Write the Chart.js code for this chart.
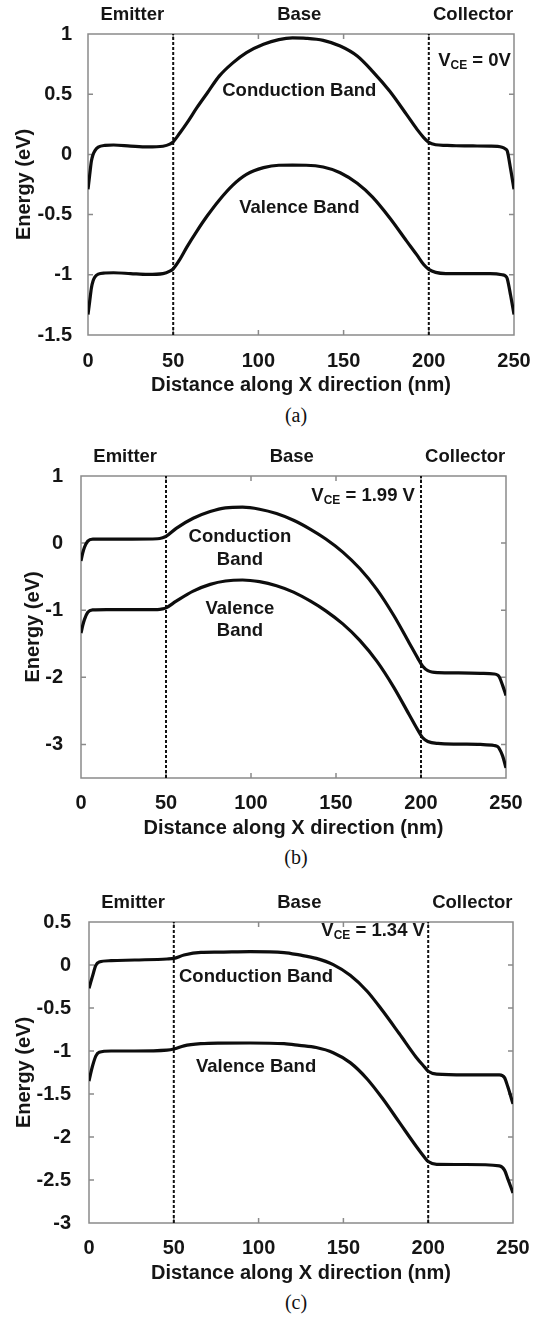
<!DOCTYPE html>
<html>
<head>
<meta charset="utf-8">
<script src="https://cdn.jsdelivr.net/npm/chart.js@4/dist/chart.umd.min.js"></script>
<style>
  body { margin: 0; background: #fff; }
  #wrap { position: relative; width: 541px; height: 1322px; overflow: hidden; }
  canvas { position: absolute; left: 0; }
  .cap { position: absolute; width: 200px; text-align: center; font: 20px "Liberation Serif", "DejaVu Serif", serif; color: #111; line-height: 24px; }
</style>
</head>
<body>
<div id="wrap">
  <canvas id="chartA" width="541" height="397" style="top:0px"></canvas>
  <canvas id="chartB" width="541" height="400" style="top:440px"></canvas>
  <canvas id="chartC" width="541" height="405" style="top:880px"></canvas>
  <div class="cap" style="left:196px;top:403px">(a)</div>
  <div class="cap" style="left:196px;top:845px">(b)</div>
  <div class="cap" style="left:196px;top:1290px">(c)</div>
</div>
<script>
// shared
const xTicks = [0, 50, 100, 150, 200, 250];
const regions = ['Emitter', 'Base', 'Collector'];
const regionCentres = [26, 124, 226];
const boundaries = [50, 200];

// (a) V_CE = 0 V
const distA = [0, 1, 2, 3, 4, 6, 10, 15, 25, 35, 44, 48, 50, 54, 58, 64, 70, 77, 85, 93, 103, 112, 120, 128, 138, 148, 158, 167, 177, 187, 193, 197, 200, 204, 210, 216, 226, 236, 243, 245, 246, 248, 250];
const conductionA = [-0.29, -0.17, -0.055, 0.0, 0.03, 0.06, 0.075, 0.078, 0.069, 0.062, 0.068, 0.085, 0.105, 0.18, 0.26, 0.39, 0.51, 0.65, 0.76, 0.845, 0.914, 0.953, 0.967, 0.964, 0.947, 0.9, 0.817, 0.69, 0.526, 0.33, 0.21, 0.14, 0.1, 0.08, 0.075, 0.072, 0.07, 0.069, 0.06, 0.045, 0.03, -0.12, -0.29];
const valenceA = [-1.33, -1.22, -1.11, -1.05, -1.02, -0.995, -0.985, -0.983, -0.99, -0.997, -0.99, -0.97, -0.95, -0.87, -0.77, -0.635, -0.51, -0.38, -0.255, -0.166, -0.11, -0.09, -0.089, -0.09, -0.105, -0.152, -0.24, -0.355, -0.526, -0.72, -0.835, -0.915, -0.955, -0.98, -0.99, -0.99, -0.99, -0.99, -1.0, -1.01, -1.03, -1.17, -1.33];
const yTicksA = [-1.5, -1, -0.5, 0, 0.5, 1];

// (b) V_CE = 1.99 V
const distB = [0, 1, 2, 4, 7, 15, 30, 45, 48, 50, 56, 66, 76, 85, 95, 105, 115, 125, 135, 144, 154, 164, 174, 184, 193, 198, 201, 204, 210, 222, 235, 243, 245, 246, 248, 250];
const conductionB = [-0.265, -0.15, -0.065, 0.03, 0.06, 0.06, 0.06, 0.065, 0.08, 0.1, 0.22, 0.37, 0.47, 0.525, 0.535, 0.505, 0.44, 0.34, 0.205, 0.061, -0.134, -0.379, -0.689, -1.079, -1.484, -1.71, -1.835, -1.9, -1.93, -1.935, -1.94, -1.95, -1.965, -1.99, -2.12, -2.27];
const valenceB = [-1.34, -1.23, -1.14, -1.03, -0.995, -0.99, -0.99, -0.99, -0.98, -0.965, -0.865, -0.715, -0.615, -0.565, -0.55, -0.575, -0.635, -0.73, -0.865, -1.009, -1.204, -1.449, -1.759, -2.149, -2.554, -2.78, -2.9, -2.955, -2.985, -2.995, -3.0, -3.015, -3.03, -3.06, -3.17, -3.35];
const yTicksB = [-3, -2, -1, 0, 1];

// (c) V_CE = 1.34 V
const distC = [0, 1, 2, 4, 6, 13, 27, 46, 50, 56, 66, 76, 95, 115, 124, 134, 144, 154, 164, 173, 183, 193, 198, 200, 205, 222, 242, 245, 247, 250];
const conductionC = [-0.27, -0.2, -0.135, -0.005, 0.035, 0.05, 0.058, 0.07, 0.077, 0.116, 0.147, 0.15, 0.155, 0.145, 0.117, 0.077, 0.004, -0.12, -0.305, -0.53, -0.8, -1.075, -1.19, -1.235, -1.268, -1.277, -1.277, -1.31, -1.42, -1.615];
const valenceC = [-1.35, -1.26, -1.18, -1.06, -1.015, -1.0, -1.0, -0.99, -0.977, -0.94, -0.915, -0.908, -0.907, -0.915, -0.935, -0.96, -1.02, -1.135, -1.325, -1.55, -1.83, -2.11, -2.24, -2.285, -2.318, -2.32, -2.335, -2.385, -2.49, -2.65];
const yTicksC = [-3, -2.5, -2, -1.5, -1, -0.5, 0, 0.5];

const FONT = '"Liberation Sans", Arial, sans-serif';
const INK = '#151515';

function points(xs, ys) {
	return xs.map(function(x, i) { return {x: x, y: ys[i]}; });
}

// box with inward tick marks on all four sides
const framePlugin = {
	id: 'frame',
	beforeDatasetsDraw(chart) {
		const ctx = chart.ctx, a = chart.chartArea, sx = chart.scales.x, sy = chart.scales.y;
		ctx.save();
		ctx.strokeStyle = '#8a8a8a';
		ctx.lineWidth = 1.5;
		ctx.strokeRect(a.left, a.top, a.right - a.left, a.bottom - a.top);
		ctx.beginPath();
		sx.ticks.forEach(function(t) {
			if (t.value <= sx.min || t.value >= sx.max) return;
			const px = sx.getPixelForValue(t.value);
			ctx.moveTo(px, a.bottom); ctx.lineTo(px, a.bottom - 5);
			ctx.moveTo(px, a.top); ctx.lineTo(px, a.top + 5);
		});
		sy.ticks.forEach(function(t) {
			if (t.value <= sy.min || t.value >= sy.max) return;
			const py = sy.getPixelForValue(t.value);
			ctx.moveTo(a.left, py); ctx.lineTo(a.left + 5, py);
			ctx.moveTo(a.right, py); ctx.lineTo(a.right - 5, py);
		});
		ctx.stroke();
		ctx.restore();
	}
};

// region names, band names and the V_CE note
const textPlugin = {
	id: 'bandText',
	afterDraw(chart, args, opts) {
		const ctx = chart.ctx, a = chart.chartArea, sx = chart.scales.x, sy = chart.scales.y;
		ctx.save();
		ctx.fillStyle = INK;
		ctx.textBaseline = 'middle';
		ctx.textAlign = 'center';
		ctx.font = 'bold 18.5px ' + FONT;
		regions.forEach(function(name, i) {
			ctx.fillText(name, sx.getPixelForValue(regionCentres[i]), a.top - 19);
		});
		opts.labels.forEach(function(l) {
			ctx.fillText(l.text, sx.getPixelForValue(l.x), sy.getPixelForValue(l.y));
		});
		// V_CE with subscript
		let px = sx.getPixelForValue(opts.vce.x);
		const py = sy.getPixelForValue(opts.vce.y);
		ctx.textAlign = 'left';
		ctx.fillText('V', px, py);
		px += ctx.measureText('V').width;
		ctx.font = 'bold 12px ' + FONT;
		ctx.fillText('CE', px, py + 5);
		px += ctx.measureText('CE').width;
		ctx.font = 'bold 18.5px ' + FONT;
		ctx.fillText(' = ' + opts.vce.text, px, py);
		ctx.restore();
	}
};

function makePanel(id, p) {
	const curve = { showLine: true, pointRadius: 0, borderColor: '#0d0d0d', borderWidth: 3.2, cubicInterpolationMode: 'monotone', fill: false };
	const datasets = [
		Object.assign({ label: 'Conduction Band', data: points(p.dist, p.cb) }, curve),
		Object.assign({ label: 'Valence Band', data: points(p.dist, p.vb) }, curve)
	];
	boundaries.forEach(function(b) {
		datasets.push({
			data: [{x: b, y: p.yMin}, {x: b, y: p.yMax}],
			showLine: true, pointRadius: 0, borderColor: '#111', borderWidth: 2, borderDash: [3, 2]
		});
	});
	const tickFont = { family: FONT, size: 20, weight: 'bold' };
	return new Chart(document.getElementById(id), {
		type: 'scatter',
		data: { datasets: datasets },
		plugins: [framePlugin, textPlugin],
		options: {
			responsive: false,
			animation: false,
			devicePixelRatio: 1,
			layout: { padding: { top: p.top, right: 541 - p.right, left: 0, bottom: 0 } },
			plugins: {
				legend: { display: false },
				tooltip: { enabled: false },
				bandText: { labels: p.labels, vce: p.vce }
			},
			scales: {
				x: {
					type: 'linear', min: 0, max: 250,
					afterBuildTicks: function(s) { s.ticks = xTicks.map(function(v) { return {value: v}; }); },
					ticks: { font: tickFont, color: INK, padding: p.xPad, maxRotation: 0, callback: function(v) { return String(v); } },
					grid: { display: false }, border: { display: false },
					title: { display: true, text: 'Distance along X direction (nm)', color: INK, font: tickFont, padding: { top: 0, bottom: 0 } },
					afterFit: function(s) { s.height = 62; }
				},
				y: {
					type: 'linear', min: p.yMin, max: p.yMax,
					afterBuildTicks: function(s) { s.ticks = p.yTicks.map(function(v) { return {value: v}; }); },
					ticks: { font: tickFont, color: INK, padding: p.yLabelPad, callback: function(v) { return String(v); } },
					grid: { display: false }, border: { display: false },
					title: { display: true, text: 'Energy (eV)', color: INK, font: tickFont, padding: { top: p.titlePad, bottom: 0 } },
					afterFit: function(s) { s.width = p.left; }
				}
			}
		}
	});
}

makePanel('chartA', {
	dist: distA, cb: conductionA, vb: valenceA, yTicks: yTicksA, yMin: -1.5, yMax: 1,
	top: 34, left: 88, right: 514, xPad: 6, yLabelPad: 8, titlePad: 12,
	labels: [{text: 'Conduction Band', x: 124, y: 0.53}, {text: 'Valence Band', x: 124, y: -0.446}],
	vce: {x: 205.5, y: 0.778, text: '0V'}
});
makePanel('chartB', {
	dist: distB, cb: conductionB, vb: valenceB, yTicks: yTicksB, yMin: -3.5, yMax: 1,
	top: 36, left: 81, right: 506, xPad: 5, yLabelPad: 10, titlePad: 21,
	labels: [{text: 'Conduction', x: 93.5, y: 0.095}, {text: 'Band', x: 93.5, y: -0.245}, {text: 'Valence', x: 93.5, y: -0.98}, {text: 'Band', x: 93.5, y: -1.31}],
	vce: {x: 135.5, y: 0.7, text: '1.99 V'}
});
makePanel('chartC', {
	dist: distC, cb: conductionC, vb: valenceC, yTicks: yTicksC, yMin: -3, yMax: 0.5,
	top: 42, left: 89, right: 513, xPad: 5, yLabelPad: 10, titlePad: 12,
	labels: [{text: 'Conduction Band', x: 98.5, y: -0.134}, {text: 'Valence Band', x: 98.5, y: -1.188}],
	vce: {x: 137, y: 0.396, text: '1.34 V'}
});
</script>
</body>
</html>
